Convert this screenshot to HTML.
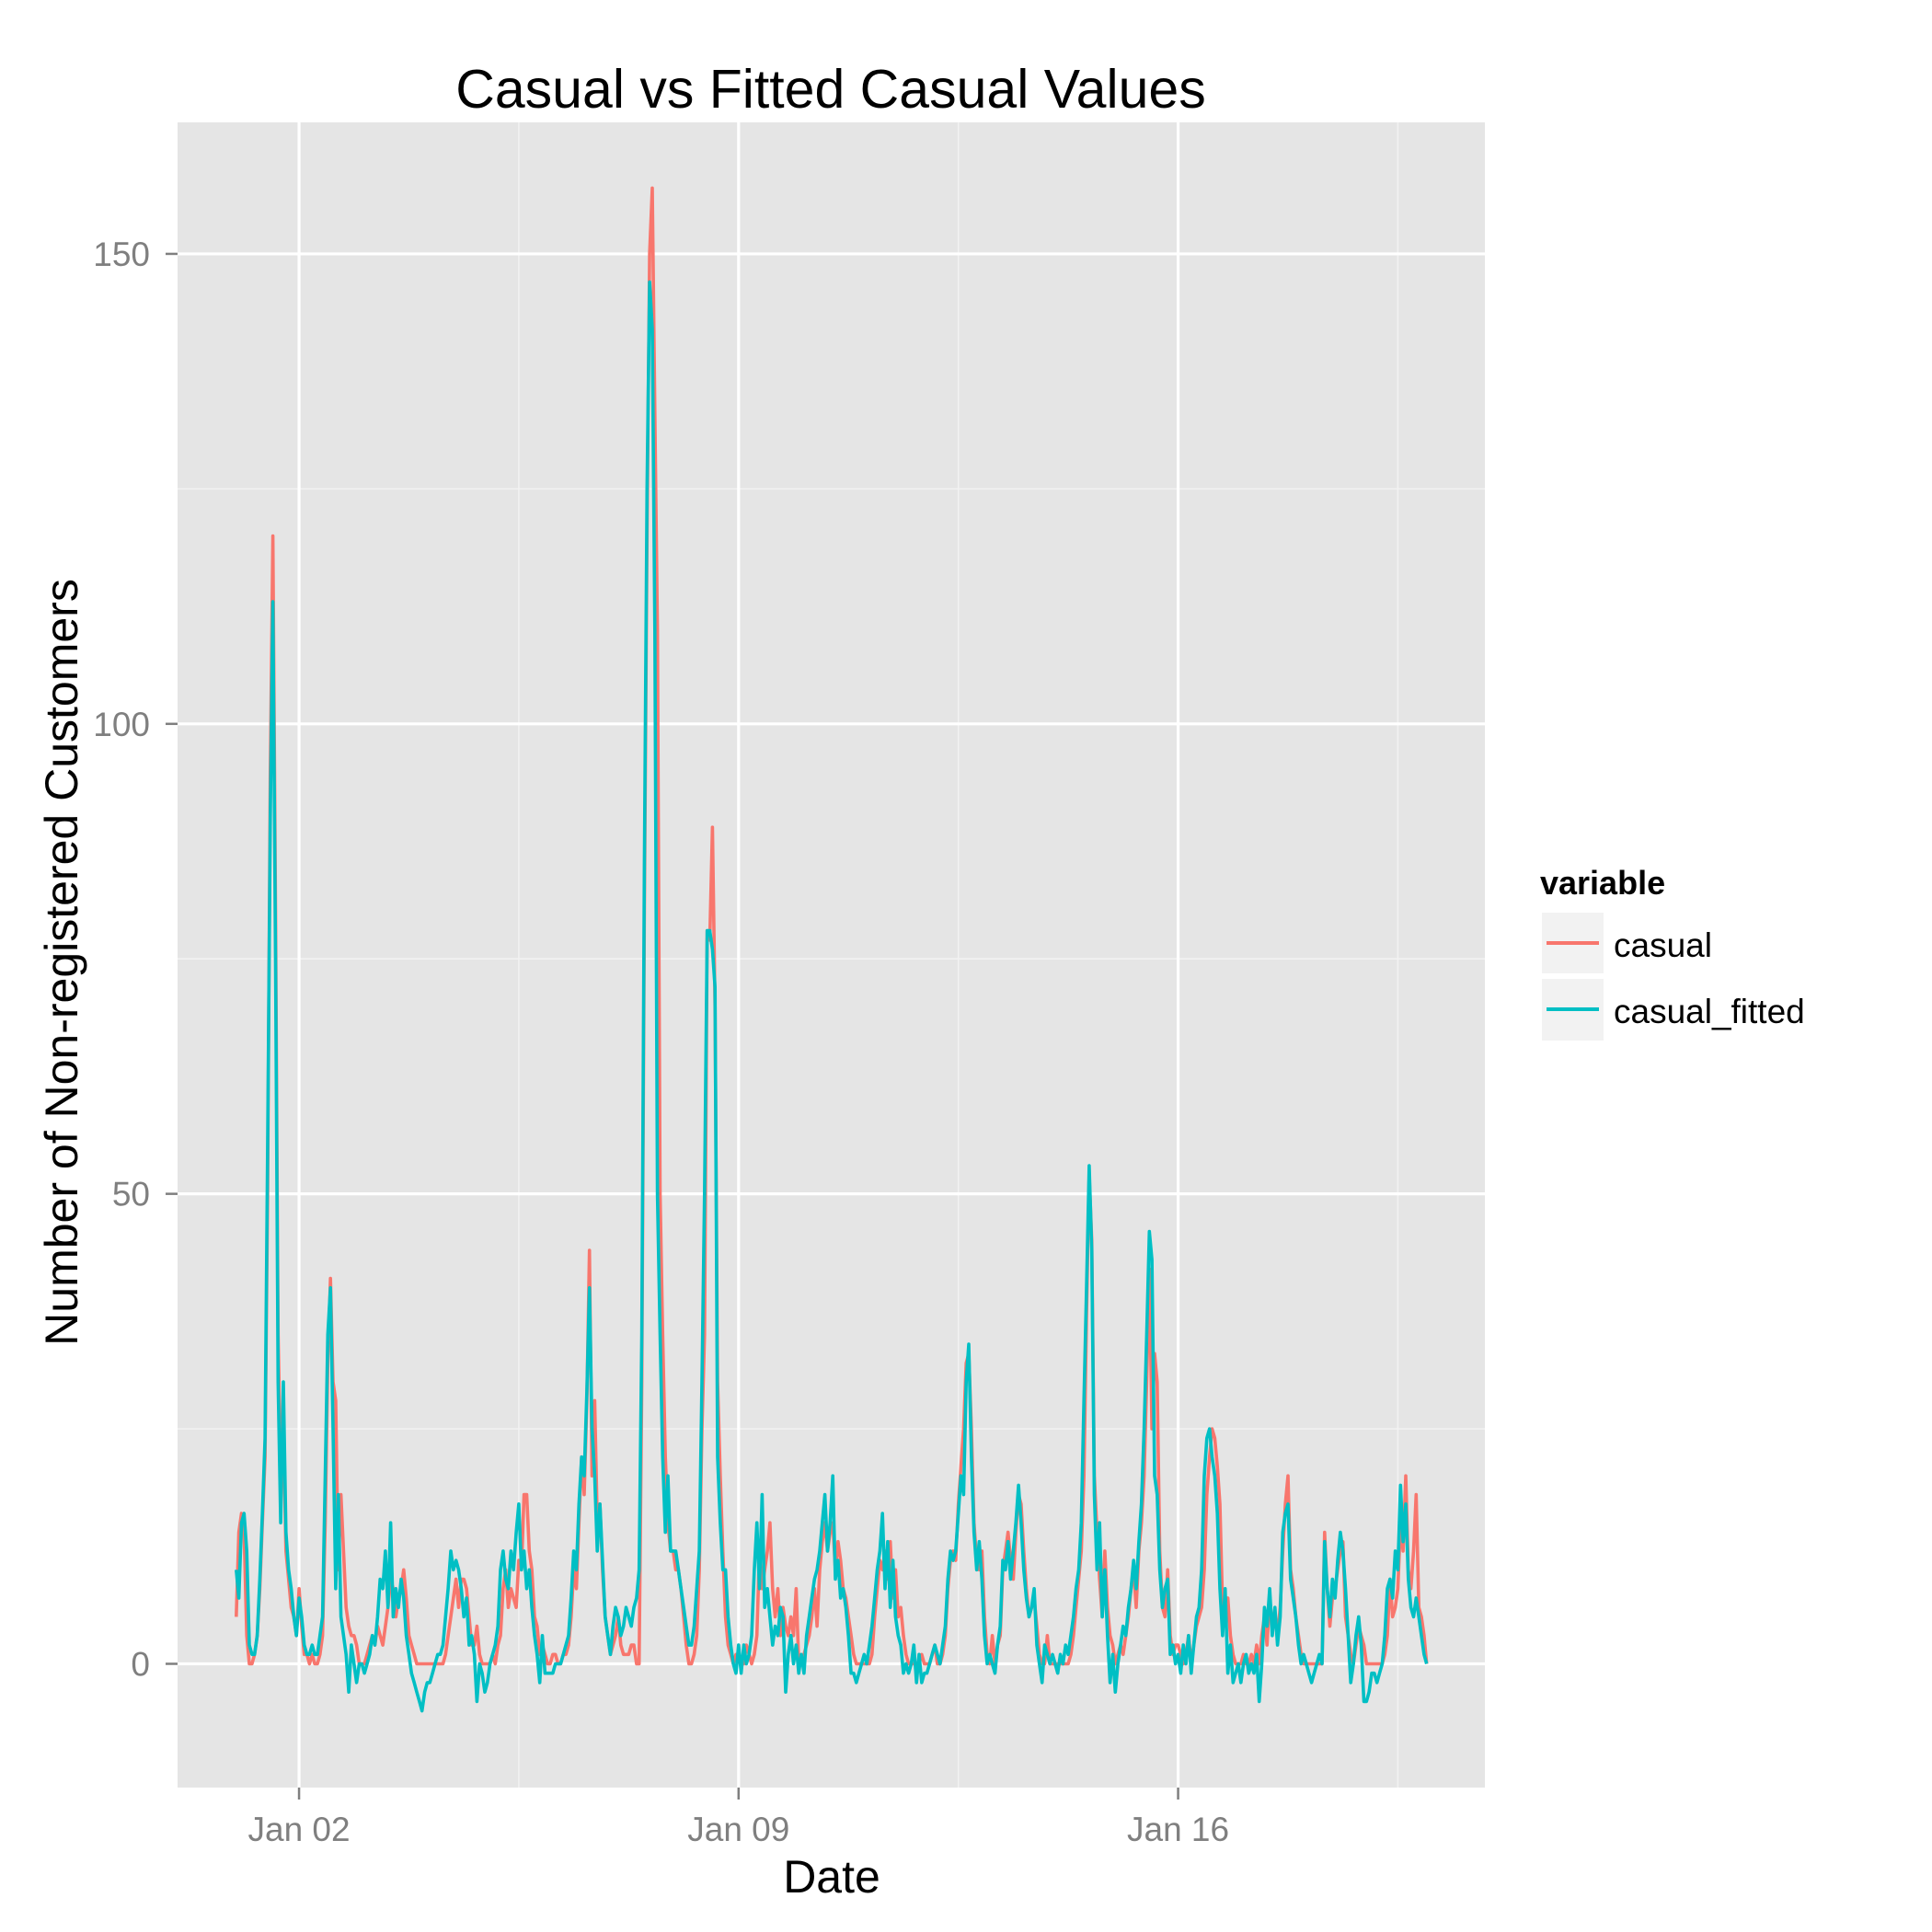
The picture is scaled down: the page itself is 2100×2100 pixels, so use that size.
<!DOCTYPE html>
<html><head><meta charset="utf-8"><style>
html,body{margin:0;padding:0;background:#fff;}
svg{display:block;font-family:"Liberation Sans",Arial,sans-serif;}
</style></head><body>
<svg id="chart" width="2100" height="2100" viewBox="0 0 2100 2100" xmlns="http://www.w3.org/2000/svg">
<rect x="193" y="133" width="1421" height="1810" fill="#e5e5e5"/>
<g id="grid"></g>
<g id="series"></g>
<g id="axes"></g>
<text x="903" y="117" text-anchor="middle" font-size="59" fill="#000">Casual vs Fitted Casual Values</text>
<text x="904" y="2057" text-anchor="middle" font-size="50" fill="#000">Date</text>
<text transform="translate(84,1046) rotate(-90)" text-anchor="middle" font-size="50" fill="#000">Number of Non-registered Customers</text>
<g>
<text x="1674" y="972" font-size="36" font-weight="bold" fill="#000">variable</text>
<g>
<rect x="1676" y="992" width="67" height="66" fill="#f2f2f2"/>
<line x1="1681" x2="1738" y1="1025" y2="1025" stroke="#f8766d" stroke-width="4"/>
<text x="1754" y="1040" font-size="37" fill="#000">casual</text>
</g>
<g>
<rect x="1676" y="1064" width="67" height="67" fill="#f2f2f2"/>
<line x1="1681" x2="1738" y1="1097" y2="1097" stroke="#00bfc4" stroke-width="4"/>
<text x="1754" y="1112" font-size="37" fill="#000">casual_fitted</text>
</g>
</g>
</svg>
<script>
const yTicks = [0, 50, 100, 150];
const yMinor = [25, 75, 125];
const xTickLabels = ["Jan 02", "Jan 09", "Jan 16"];
const xTickDays = [1, 8, 15];
const xMinorDays = [4.5, 11.5, 18.5];
const casual = [
5,14,16,14,3,0,0,1,3,8,15,22,50,95,120,80,35,20,25,12,9,6,5,3,
8,4,1,1,0,1,0,0,1,3,15,32,41,30,28,10,18,12,6,4,3,3,2,0,
0,0,1,2,3,2,4,3,2,4,6,9,8,5,7,8,10,7,3,2,1,0,0,0,
0,0,0,0,0,0,0,0,1,3,5,7,9,6,9,9,8,5,2,2,4,1,0,0,
0,0,1,0,2,3,8,10,6,8,7,6,11,10,18,18,12,10,5,4,1,2,1,0,
0,1,1,0,0,1,1,2,5,10,8,15,22,18,28,44,20,28,15,17,10,5,3,1,
2,3,5,2,1,1,1,2,2,0,0,30,80,120,150,157,133,110,50,35,22,15,12,12,
10,10,8,5,2,0,0,1,3,10,25,35,78,77,89,70,30,20,12,5,2,1,0,1,
1,0,0,2,1,0,1,3,12,8,10,12,15,8,5,8,3,6,4,3,5,3,8,0,
0,1,2,3,5,8,4,10,13,15,12,14,15,10,13,11,8,7,5,3,1,0,0,0,
0,0,0,1,5,8,11,10,12,9,13,7,10,5,6,3,1,0,0,0,0,0,1,0,
0,0,1,2,0,0,1,3,8,11,12,11,17,21,25,32,33,25,15,11,10,12,5,1,
0,3,0,2,3,10,12,14,11,9,14,18,17,12,8,5,6,7,4,1,0,0,3,0,
0,0,0,0,0,0,0,1,3,6,9,12,20,37,52,45,20,14,9,5,12,6,3,2,
0,1,2,1,3,5,8,10,6,12,15,20,30,42,25,33,30,12,6,5,10,3,1,2,
2,1,0,1,3,0,2,4,5,6,10,18,22,25,24,21,17,6,5,7,3,1,0,0,
0,1,0,0,1,0,2,0,3,5,2,7,4,5,3,6,12,17,20,10,8,5,3,1,
0,0,0,0,0,0,0,0,14,8,4,7,8,10,12,13,5,3,1,0,2,4,3,2,
0,0,0,0,0,0,0,1,3,9,5,6,8,15,12,20,10,8,12,18,6,5,3,0
];
const casualFitted = [
10,7,15,16,12,2,1,1,3,9,16,24,55,90,113,75,30,15,30,14,10,8,5,3,
7,5,2,1,1,2,1,1,3,5,20,35,40,25,8,18,5,3,1,-3,2,0,-2,0,
0,-1,0,1,3,2,5,9,8,12,6,15,5,8,6,9,7,3,1,-1,-2,-3,-4,-5,
-3,-2,-2,-1,0,1,1,2,5,8,12,10,11,10,8,5,7,2,3,1,-4,0,-1,-3,
-2,0,1,2,4,10,12,9,8,12,10,14,17,10,12,8,10,6,3,1,-2,3,-1,-1,
-1,-1,0,0,0,1,2,3,7,12,10,17,22,20,29,40,25,20,12,17,11,5,3,1,
4,6,5,3,4,6,5,4,6,7,10,35,85,125,147,142,110,50,35,22,14,20,12,12,
12,10,8,6,4,2,2,4,8,12,30,50,78,78,76,72,22,15,10,10,5,2,0,-1,
2,-1,2,0,1,3,10,15,8,18,6,8,5,2,4,3,6,5,-3,1,3,0,2,-1,
1,-1,3,5,7,9,10,12,15,18,12,15,20,9,11,7,8,6,3,-1,-1,-2,-1,0,
1,0,2,4,7,10,12,16,8,13,6,11,5,3,2,-1,0,-1,0,2,-2,1,-2,-1,
-1,0,1,2,1,0,2,4,9,12,11,12,16,20,18,30,34,22,14,10,13,9,3,0,
1,0,-1,2,4,11,10,13,9,12,15,19,15,10,7,5,6,8,2,0,-2,2,1,0,
1,0,-1,1,0,2,1,3,5,8,10,15,28,40,53,44,18,10,15,5,10,3,-2,1,
-3,0,2,4,3,6,8,11,8,13,17,25,35,46,43,20,18,10,6,8,9,1,2,0,
1,-1,2,0,3,-1,2,5,6,10,20,24,25,22,20,16,8,3,8,-1,2,-2,-1,0,
-2,0,1,-1,0,-1,1,-4,0,6,4,8,3,6,2,5,14,16,17,9,7,5,2,0,
1,0,-1,-2,-1,0,1,0,13,8,5,9,7,11,14,12,8,3,-2,0,3,5,2,-4,
-4,-3,-1,-1,-2,-1,0,3,8,9,7,12,10,19,13,17,9,6,5,7,5,3,1,0
];
const NS = "http://www.w3.org/2000/svg";
const PX_PER_DAY = 68.25, X_DAY0 = 256.8;
function xDay(d){ return X_DAY0 + d*PX_PER_DAY; }
function xHour(h){ return xDay(h/24); }
function yVal(v){ return 1808.5 - v*10.217; }
const grid = document.getElementById('grid');
const axes = document.getElementById('axes');
const series = document.getElementById('series');
function mk(tag, attrs, parent){ const e=document.createElementNS(NS,tag); for(const k in attrs) e.setAttribute(k,attrs[k]); parent.appendChild(e); return e; }
yMinor.forEach(v=>{
  const l=mk('line',{x1:193,x2:1614,y1:yVal(v),y2:yVal(v),stroke:'#f2f2f2','stroke-width':1.6},grid);
  
  
});
xMinorDays.forEach(d=>{
  const l=mk('line',{x1:xDay(d),x2:xDay(d),y1:133,y2:1943,stroke:'#f2f2f2','stroke-width':1.6},grid);
  
  
});
yTicks.forEach(v=>{
  const y=yVal(v);
  const l=mk('line',{x1:193,x2:1614,y1:y,y2:y,stroke:'#fff','stroke-width':3.2},grid);
  
  
  const t=mk('line',{x1:180,x2:193,y1:y,y2:y,stroke:'#7f7f7f','stroke-width':2.5},axes);
  
  
  const tx=mk('text',{x:163,y:y+13,'text-anchor':'end','font-size':37,fill:'#7f7f7f'},axes);
  tx.textContent=String(v);
  
  
});
xTickDays.forEach((d,i)=>{
  const x=xDay(d);
  const l=mk('line',{x1:x,x2:x,y1:133,y2:1943,stroke:'#fff','stroke-width':3.2},grid);
  
  
  const t=mk('line',{x1:x,x2:x,y1:1943,y2:1956,stroke:'#7f7f7f','stroke-width':2.5},axes);
  
  
  const tx=mk('text',{x:x,y:2001,'text-anchor':'middle','font-size':37,fill:'#7f7f7f'},axes);
  tx.textContent=xTickLabels[i];
  
  
});
function pathFor(arr){ return arr.map((v,i)=>(i?'L':'M')+xHour(i).toFixed(1)+','+yVal(v).toFixed(1)).join(''); }
const p1=mk('path',{d:pathFor(casual),fill:'none',stroke:'#f8766d','stroke-width':3.6,'stroke-linejoin':'round'},series);


const p2=mk('path',{d:pathFor(casualFitted),fill:'none',stroke:'#00bfc4','stroke-width':3.6,'stroke-linejoin':'round'},series);


</script>
</body></html>
